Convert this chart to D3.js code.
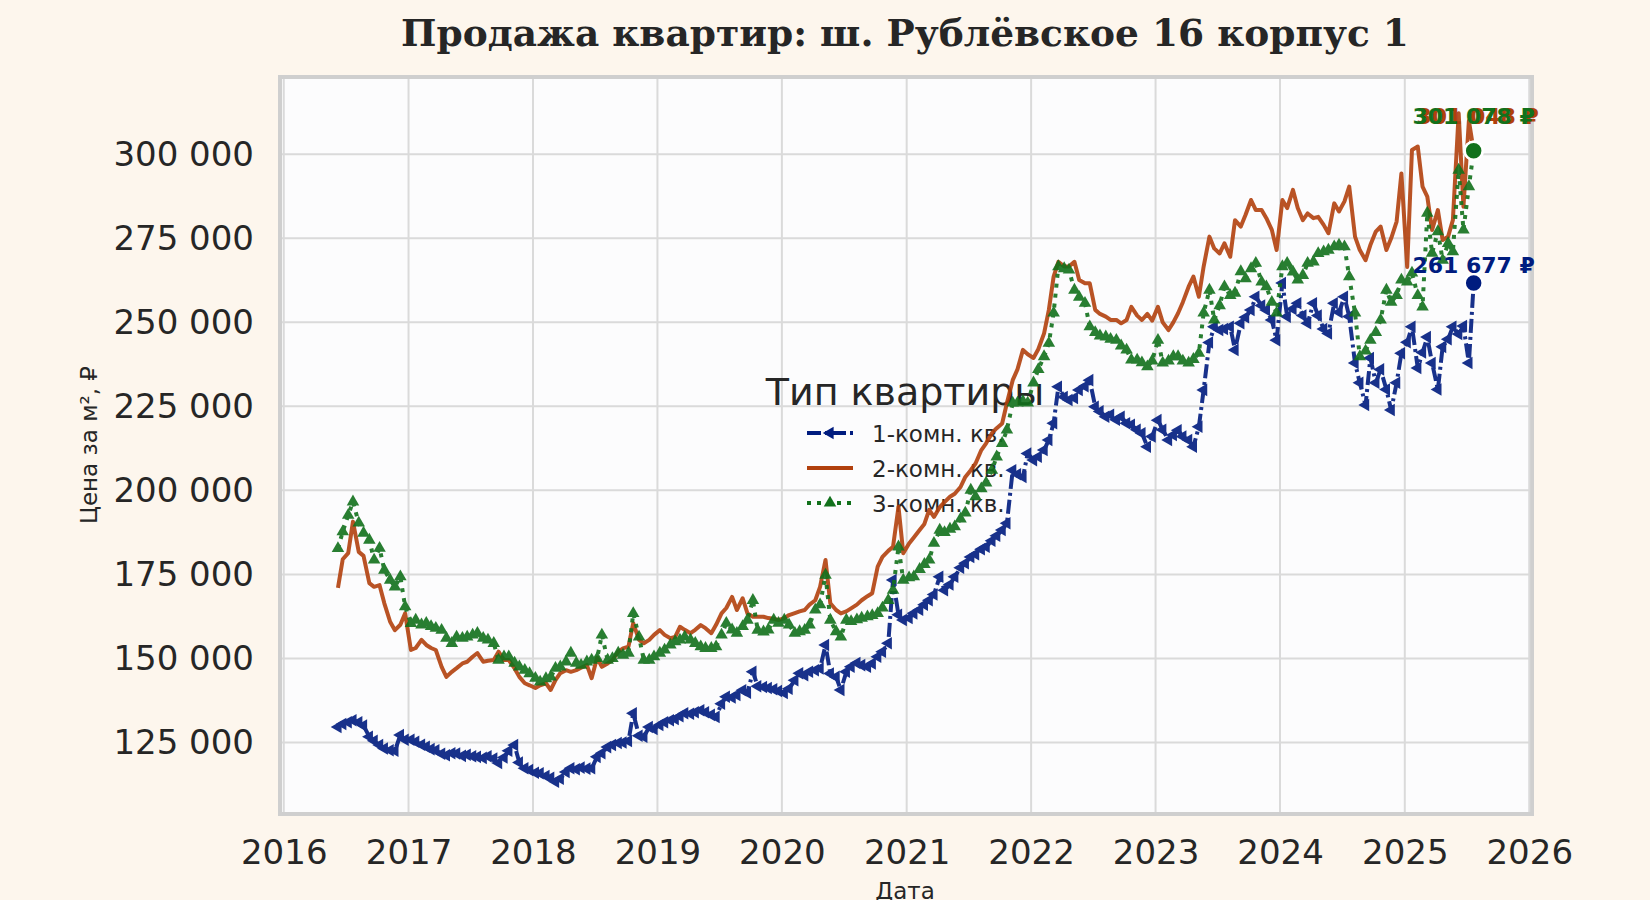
<!DOCTYPE html>
<html>
<head>
<meta charset="UTF-8" />
<title>Продажа квартир: ш. Рублёвское 16 корпус 1</title>
<script src="https://d3js.org/d3.v7.min.js"></script>
<style>
  html, body { margin: 0; padding: 0; background: #fdf6ed; }
  svg { display: block; font-family: "DejaVu Sans", sans-serif; }
</style>
</head>
<body>
<svg id="chart" width="1650" height="900"></svg>
<script>
// two readings a month (8th and 22nd), from June 2016, price per m² in thousand ₽
const startDate = "2016-06-08";
const seriesNames = ["1-комн. кв.", "2-комн. кв.", "3-комн. кв."];
const yTicks = [125000, 150000, 175000, 200000, 225000, 250000, 275000, 300000];
const xTickYears = [2016, 2017, 2018, 2019, 2020, 2021, 2022, 2023, 2024, 2025, 2026];

const oneRoom = [
  129.6,130.5, 131.0,131.6, 131.0,130.0, 126.7,125.5, 124.2,123.2, 122.7,122.5, 127.2,125.8,
  125.8,125.2, 124.3,123.7, 123.0,122.7, 121.6,121.2, 121.8,121.7, 121.0,121.3, 120.9,120.7, 120.4,120.9, 120.2,118.9, 120.5,122.5, 124.2,119.0, 117.3,116.8,
  116.0,115.8, 115.0,114.5, 113.3,114.2, 116.2,117.3, 117.0,117.5, 117.2,117.3, 120.7,121.8, 123.6,124.2, 124.8,125.0, 125.4,133.7, 127.0,126.7, 129.6,129.0,
  130.2,131.0, 131.6,132.0, 132.8,133.7, 133.5,134.0, 134.6,134.0, 133.2,132.6, 136.5,138.6, 138.4,139.1, 140.5,139.8, 146.0,141.7, 141.5,141.2, 140.8,140.3,
  139.7,141.0, 143.5,145.6, 145.0,146.0, 146.5,147.0, 154.0,145.5, 144.5,140.6, 146.0,147.5, 148.6,148.0, 147.5,148.5, 150.5,152.0, 154.5,173.3, 163.0,161.4,
  162.0,163.4, 164.5,166.0, 167.3,169.0, 174.3,170.3, 172.0,174.3, 177.0,178.3, 180.2,181.0, 182.5,183.2, 185.0,186.5, 188.2,190.2, 206.0,204.8, 204.0,211.0,
  209.0,210.0, 212.0,215.0, 220.0,230.8, 227.8,226.9, 227.5,229.9, 231.0,232.8, 224.9,223.5, 221.9,222.5, 221.0,221.9, 220.0,219.5, 218.0,217.0, 213.0,216.0,
  220.9,218.0, 215.0,216.5, 217.9,216.0, 215.0,213.0, 218.9,229.9, 244.0,248.7, 247.7,248.0, 248.7,241.8, 249.7,251.5, 253.7,257.6, 255.0,253.7, 250.7,244.7,
  261.7,251.7, 254.0,255.7, 252.0,249.7, 255.7,252.0, 248.0,246.7, 255.7,253.0, 257.6,251.7, 237.9,232.0, 225.4,239.4, 232.0,236.0, 230.0,223.9, 232.0,240.8,
  244.1,248.7, 236.4,241.0, 245.6,237.9, 230.0,242.7, 245.0,248.7, 246.5,248.9, 237.9,261.677
];

const twoRoom = [
  171.0,179.5, 181.3,190.7, 181.7,180.5, 172.4,171.3, 171.8,166.4, 160.9,158.4, 160.0,163.4,
  152.5,153.1, 155.5,154.0, 153.1,152.5, 147.5,144.5, 146.0,147.1, 148.5,149.0, 150.5,151.6, 149.0,149.3, 149.5,152.0, 149.5,149.5, 147.0,144.5, 142.6,142.0,
  141.2,142.0, 142.6,140.6, 143.5,145.6, 146.5,146.0, 146.5,147.2, 148.0,144.1, 150.2,147.5, 148.5,149.5, 152.0,153.0, 153.5,160.5, 155.5,154.5, 155.5,157.0,
  158.4,157.0, 156.0,156.4, 159.4,158.5, 157.5,158.5, 159.9,159.0, 157.5,160.0, 163.4,165.0, 168.3,164.4, 167.9,163.4, 162.4,162.4, 162.4,162.0, 161.8,161.4,
  162.0,162.9, 163.5,164.0, 164.4,166.0, 167.3,171.3, 179.3,166.4, 164.4,163.4, 164.0,164.9, 166.0,167.3, 168.5,169.4, 177.3,180.2, 182.0,183.2, 195.1,181.3,
  184.2,186.0, 188.2,190.0, 194.2,192.1, 195.0,196.5, 198.1,199.0, 201.0,204.0, 206.0,208.0, 212.0,214.0, 217.0,218.5, 219.9,226.0, 232.8,236.0, 241.8,240.5,
  239.4,242.0, 246.7,253.7, 263.6,268.0, 266.6,266.6, 268.0,262.6, 261.6,261.6, 253.7,252.5, 251.7,250.7, 250.7,249.7, 250.7,254.6, 252.0,250.7, 252.5,250.5,
  254.6,250.0, 247.7,250.0, 252.7,256.0, 260.6,263.6, 257.6,266.6, 275.5,272.0, 270.5,273.5, 269.5,280.4, 278.5,282.0, 286.4,283.4, 283.4,281.0, 277.5,271.5,
  286.4,284.0, 289.4,284.0, 280.4,282.4, 281.0,281.4, 279.0,276.5, 285.4,283.0, 286.0,290.4, 275.5,271.5, 268.5,273.0, 277.0,278.5, 271.5,275.0, 280.0,294.3,
  266.5,301.3, 302.3,290.4, 287.4,277.5, 283.4,274.5, 275.5,280.4, 312.2,284.4, 310.0,301.048
];

const threeRoom = [
  182.7,187.7, 192.6,196.6, 190.3,187.3, 185.2,179.3, 182.8,176.3, 173.3,171.3, 174.3,165.4,
  160.4,161.4, 160.0,160.5, 159.5,159.0, 158.4,156.0, 154.5,156.4, 156.0,156.4, 157.0,157.5, 156.0,155.5, 154.5,149.5, 150.5,150.5, 148.6,147.5, 146.5,145.5,
  144.1,143.0, 144.0,144.5, 147.1,147.5, 149.0,151.6, 148.6,148.0, 149.0,149.5, 150.0,157.0, 149.5,150.0, 151.6,151.0, 151.6,163.4, 156.4,149.5, 149.5,150.5,
  151.6,152.5, 154.0,155.0, 155.5,156.4, 155.5,154.5, 153.5,153.0, 153.0,153.5, 157.0,160.5, 158.5,157.5, 159.5,161.4, 167.3,158.4, 157.9,158.5, 161.4,160.5,
  161.4,160.0, 157.5,158.0, 158.4,160.0, 164.4,166.0, 174.8,161.4, 158.0,156.4, 161.4,161.0, 161.5,162.0, 162.4,162.8, 163.4,165.0, 167.3,170.3, 183.2,173.3,
  174.0,174.3, 176.5,178.0, 179.3,184.3, 188.2,187.5, 188.5,189.2, 191.5,193.3, 200.1,198.1, 200.5,202.2, 206.0,210.0, 214.0,218.0, 226.0,226.0, 226.5,226.0,
  232.0,236.0, 239.8,243.8, 252.8,266.6, 266.0,265.6, 259.6,257.5, 255.7,248.7, 247.0,246.0, 245.7,245.0, 244.7,243.0, 241.8,238.8, 238.8,238.0, 236.8,238.5,
  244.7,237.9, 238.5,239.8, 239.8,238.5, 237.9,239.0, 240.8,252.8, 259.6,250.7, 255.0,260.6, 258.0,258.7, 265.1,263.0, 266.0,267.6, 262.0,260.6, 256.0,252.8,
  266.6,267.6, 265.0,262.6, 264.0,267.6, 268.0,270.5, 271.0,271.5, 272.5,273.0, 272.5,263.6, 252.8,239.8, 241.5,244.7, 247.0,250.7, 259.6,256.0, 258.0,262.6,
  262.0,264.7, 258.0,254.6, 282.5,270.6, 277.0,268.5, 273.5,271.0, 295.3,277.5, 290.4,301.078
];

const svg = d3.select("#chart");
const W = 1650;
const frame = { left: 280, top: 77, right: 1532, bottom: 814 };
const textColor = "#262626";

const start = d3.timeParse("%Y-%m-%d")(startDate);
const dates = oneRoom.map((_, i) =>
  d3.timeDay.offset(d3.timeMonth.offset(start, Math.floor(i / 2)), (i % 2) * 14));

const series = [oneRoom, twoRoom, threeRoom].map((vals, k) => ({
  name: seriesNames[k],
  points: vals.map((v, i) => ({ date: dates[i], value: v * 1000 }))
}));

const styles = [
  { color: "#001c7f", dash: "14,4,3,4", marker: -90, labelDy: -10, labelDx: 0 },
  { color: "#b1400d", dash: null, marker: null, labelDy: -27, labelDx: 4 },
  { color: "#12711c", dash: "4,6", marker: 0, labelDy: -27, labelDx: 0 }
];

const x = d3.scaleTime()
  .domain([new Date(2016, 0, 1), new Date(2026, 0, 1)])
  .range([283.75, 1529.25]);
const y = d3.scaleLinear().domain([103700, 323000]).range([frame.bottom, frame.top]);

const fmt = v => d3.format(",")(Math.round(v)).replace(/,/g, " ");

// page + title
svg.append("rect").attr("width", W).attr("height", 900).attr("fill", "#fdf6ed");
svg.append("text")
  .attr("x", 905).attr("y", 46)
  .attr("text-anchor", "middle")
  .style("font-family", "'DejaVu Serif', serif")
  .style("font-weight", "bold")
  .style("font-size", "37.5px")
  .attr("fill", textColor)
  .text("Продажа квартир: ш. Рублёвское 16 корпус 1");

// plot area
svg.append("rect")
  .attr("x", frame.left).attr("y", frame.top)
  .attr("width", frame.right - frame.left).attr("height", frame.bottom - frame.top)
  .attr("fill", "#fcfcfd").attr("stroke", "#cfcfcf").attr("stroke-width", 4);

const xTickDates = xTickYears.map(yr => new Date(yr, 0, 1));

// grid
svg.append("g")
  .selectAll("line.vgrid")
  .data(xTickDates)
  .join("line")
  .attr("x1", d => x(d)).attr("x2", d => x(d))
  .attr("y1", frame.top + 2).attr("y2", frame.bottom - 2)
  .attr("stroke", "#dadada").attr("stroke-width", 2);
svg.append("g")
  .selectAll("line.hgrid")
  .data(yTicks)
  .join("line")
  .attr("x1", frame.left + 2).attr("x2", frame.right - 2)
  .attr("y1", d => y(d)).attr("y2", d => y(d))
  .attr("stroke", "#dadada").attr("stroke-width", 2);

// axes
const yAxis = svg.append("g")
  .attr("transform", `translate(${frame.left},0)`)
  .call(d3.axisLeft(y).tickValues(yTicks).tickFormat(fmt).tickSize(0).tickPadding(26));
const xAxis = svg.append("g")
  .attr("transform", `translate(0,${frame.bottom})`)
  .call(d3.axisBottom(x).tickValues(xTickDates).tickFormat(d3.timeFormat("%Y")).tickSize(0).tickPadding(26));
[yAxis, xAxis].forEach(g => {
  g.select(".domain").remove();
  g.selectAll("text")
    .style("font-family", "'DejaVu Sans', sans-serif")
    .style("font-size", "34px")
    .attr("fill", textColor);
});

svg.append("text")
  .attr("transform", "translate(97,445) rotate(-90)")
  .attr("text-anchor", "middle")
  .style("font-size", "23px")
  .attr("fill", textColor)
  .text("Цена за м², ₽");
svg.append("text")
  .attr("x", 905).attr("y", 899)
  .attr("text-anchor", "middle")
  .style("font-size", "23px")
  .attr("fill", textColor)
  .text("Дата");

// legend (sits under the lines)
const legend = svg.append("g");
legend.append("text")
  .attr("x", 905).attr("y", 405)
  .attr("text-anchor", "middle")
  .style("font-size", "38px")
  .attr("fill", textColor)
  .text("Тип квартиры");

const triangle = d3.symbol().type(d3.symbolTriangle).size(68);

series.forEach((s, k) => {
  const st = styles[k];
  const row = legend.append("g").attr("transform", `translate(0,${35 * k})`);
  row.append("line")
    .attr("x1", 807).attr("x2", 853).attr("y1", 433).attr("y2", 433)
    .attr("stroke", st.color).attr("stroke-width", 4)
    .attr("stroke-dasharray", st.dash);
  if (st.marker !== null) {
    row.append("path")
      .attr("d", triangle)
      .attr("transform", `translate(830,433) rotate(${st.marker})`)
      .attr("fill", st.color);
  }
  row.append("text")
    .attr("x", 872).attr("y", 442)
    .style("font-size", "23px")
    .attr("fill", textColor)
    .text(s.name);
});

// lines and markers
const line = d3.line().x(d => x(d.date)).y(d => y(d.value));

series.forEach((s, k) => {
  const st = styles[k];
  const g = svg.append("g").attr("opacity", 0.9);
  g.append("path")
    .datum(s.points)
    .attr("d", line)
    .attr("fill", "none")
    .attr("stroke", st.color)
    .attr("stroke-width", 4)
    .attr("stroke-linejoin", "round")
    .attr("stroke-dasharray", st.dash);
  if (st.marker !== null) {
    g.selectAll("path.marker")
      .data(s.points)
      .join("path")
      .attr("class", "marker")
      .attr("d", triangle)
      .attr("transform", d => `translate(${x(d.date)},${y(d.value)}) rotate(${st.marker})`)
      .attr("fill", st.color);
  }
});

// last values
series.forEach((s, k) => {
  const st = styles[k];
  const last = s.points[s.points.length - 1];
  svg.append("circle")
    .attr("cx", x(last.date)).attr("cy", y(last.value)).attr("r", 9)
    .attr("fill", st.color).attr("stroke", "#fff").attr("stroke-width", 2.5);
});
series.forEach((s, k) => {
  const st = styles[k];
  const last = s.points[s.points.length - 1];
  svg.append("text")
    .attr("x", x(last.date) + st.labelDx).attr("y", y(last.value) + st.labelDy)
    .attr("text-anchor", "middle")
    .style("font-size", "22px")
    .style("font-weight", "bold")
    .attr("fill", st.color)
    .text(fmt(last.value) + " ₽");
});
</script>
</body>
</html>
